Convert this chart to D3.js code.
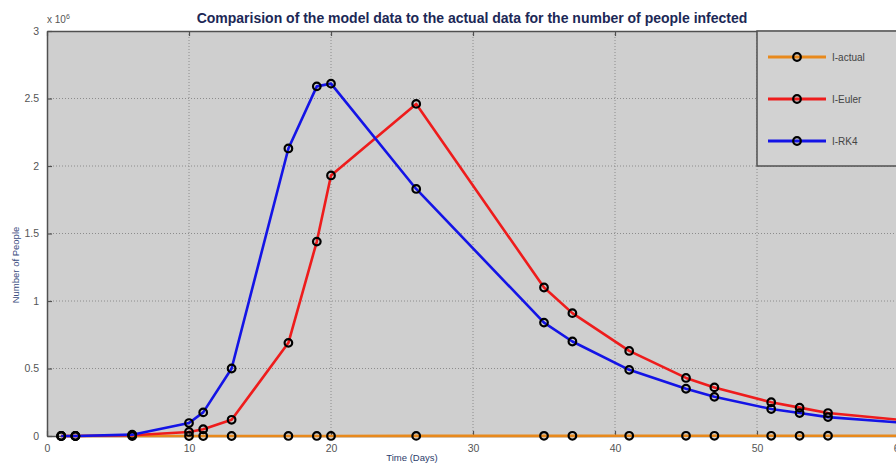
<!DOCTYPE html>
<html>
<head>
<meta charset="utf-8">
<script src="https://cdn.jsdelivr.net/npm/d3@7"></script>
<style>
  html, body { margin: 0; padding: 0; background: #ffffff; }
  svg { display: block; font-family: "Liberation Sans", Arial, sans-serif; }
</style>
</head>
<body>
<svg id="chart" width="896" height="465"></svg>
<script>
// Sample days and infected counts for each series
const days = [1, 2, 6, 10, 11, 13, 17, 19, 20, 26, 35, 37, 41, 45, 47, 51, 53, 55, 61];
const actualInfected = [1, 2, 5, 30, 60, 120, 250, 400, 500, 900, 1200, 1300, 1400, 1500, 1550, 1600, 1650, 1700, 1750];
const eulerInfected = [0, 0, 5000, 30000, 50000, 120000, 690000, 1440000, 1930000, 2460000,
  1100000, 910000, 630000, 430000, 360000, 250000, 210000, 170000, 110000];
const rk4Infected = [0, 0, 10000, 96000, 175000, 500000, 2130000, 2590000, 2610000, 1830000,
  840000, 700000, 490000, 350000, 290000, 200000, 170000, 140000, 92000];

const xTicks = [0, 10, 20, 30, 40, 50, 60];
const yTicks = [0, 0.5e6, 1e6, 1.5e6, 2e6, 2.5e6, 3e6];
const yTickLabels = ["0", "0.5", "1", "1.5", "2", "2.5", "3"];

const seriesNames = ["I-actual", "I-Euler", "I-RK4"];
const seriesColors = ["#e8891c", "#ee1c1c", "#1414e6"];
const seriesValues = [actualInfected, eulerInfected, rk4Infected];

const svg = d3.select("#chart");
const plotLeft = 47, plotRight = 899, plotTop = 31, plotBottom = 436;

const x = d3.scaleLinear().domain([0, 60]).range([plotLeft, plotRight]);
const y = d3.scaleLinear().domain([0, 3e6]).range([plotBottom, plotTop]);

// Title
svg.append("text")
  .attr("x", 472).attr("y", 23)
  .attr("text-anchor", "middle")
  .attr("font-size", 14).attr("font-weight", "bold")
  .attr("fill", "#1c2856")
  .text("Comparision of the model data to the actual data for the number of people infected");

// Plot background
svg.append("rect")
  .attr("x", plotLeft).attr("y", plotTop)
  .attr("width", plotRight - plotLeft).attr("height", plotBottom - plotTop)
  .attr("fill", "#cfcfcf");

svg.append("clipPath").attr("id", "plotclip")
  .append("rect")
  .attr("x", plotLeft).attr("y", plotTop - 6)
  .attr("width", plotRight - plotLeft).attr("height", plotBottom - plotTop + 12);

// Dotted grid
const grid = svg.append("g").attr("stroke", "#8c8c8c").attr("stroke-width", 1)
  .attr("stroke-dasharray", "1,2");
grid.selectAll(".vg").data(xTicks.filter(d => d > 0 && d < 60)).enter()
  .append("line")
  .attr("x1", d => x(d)).attr("x2", d => x(d))
  .attr("y1", plotTop).attr("y2", plotBottom);
grid.selectAll(".hg").data(yTicks.filter(d => d > 0 && d < 3e6)).enter()
  .append("line")
  .attr("x1", plotLeft).attr("x2", plotRight)
  .attr("y1", d => y(d)).attr("y2", d => y(d));

// Axes with inward ticks
const xAxisBottom = d3.axisBottom(x).tickValues(xTicks).tickSizeInner(-5).tickSizeOuter(0).tickPadding(9);
const xAxisTop = d3.axisTop(x).tickValues(xTicks).tickSizeInner(-5).tickSizeOuter(0).tickFormat("");
const yAxisLeft = d3.axisLeft(y).tickValues(yTicks).tickSizeInner(-5).tickSizeOuter(0).tickPadding(8)
  .tickFormat((d, i) => yTickLabels[i]);

function styleAxis(g) {
  g.select(".domain").attr("stroke", "#505050").attr("stroke-width", 1.5);
  g.selectAll(".tick line").attr("stroke", "#505050").attr("stroke-width", 1.2);
  g.selectAll(".tick text").attr("fill", "#555555").attr("font-size", 10.5)
    .attr("font-family", "\"Liberation Sans\", Arial, sans-serif");
}
svg.append("g").attr("transform", `translate(0,${plotBottom})`).call(xAxisBottom).call(styleAxis);
svg.append("g").attr("transform", `translate(0,${plotTop})`).call(xAxisTop).call(styleAxis);
svg.append("g").attr("transform", `translate(${plotLeft},0)`).call(yAxisLeft).call(styleAxis);

// Scale exponent
const expo = svg.append("text").attr("x", 47).attr("y", 23)
  .attr("font-size", 10).attr("fill", "#555555");
expo.append("tspan").text("x 10");
expo.append("tspan").attr("font-size", 7).attr("dy", -4).text("6");

// Axis titles
svg.append("text")
  .attr("x", 412).attr("y", 461)
  .attr("text-anchor", "middle")
  .attr("font-size", 9.5).attr("fill", "#2c3c6c")
  .text("Time (Days)");
svg.append("text")
  .attr("transform", "translate(19,265) rotate(-90)")
  .attr("text-anchor", "middle")
  .attr("font-size", 9.5).attr("fill", "#3a4c7e")
  .text("Number of People");

// Series lines and ring markers
const line = d3.line().x((d, i) => x(days[i])).y(d => y(d));
const plot = svg.append("g").attr("clip-path", "url(#plotclip)");
seriesValues.forEach((vals, s) => {
  plot.append("path")
    .datum(vals)
    .attr("d", line)
    .attr("fill", "none")
    .attr("stroke", seriesColors[s])
    .attr("stroke-width", 2.6)
    .attr("stroke-linejoin", "round");
});
seriesValues.forEach((vals, s) => {
  plot.selectAll(".m" + s).data(vals).enter()
    .append("circle")
    .attr("cx", (d, i) => x(days[i]))
    .attr("cy", d => y(d))
    .attr("r", 3.8)
    .attr("fill", "none")
    .attr("stroke", "#000000")
    .attr("stroke-width", 2.2);
});

// Legend
const lg = svg.append("g");
lg.append("rect")
  .attr("x", 757).attr("y", plotTop)
  .attr("width", 160).attr("height", 135)
  .attr("fill", "#d2d2d2")
  .attr("stroke", "#505050").attr("stroke-width", 1.5);
seriesNames.forEach((name, i) => {
  const ly = 57 + i * 42;
  lg.append("line")
    .attr("x1", 768).attr("x2", 826)
    .attr("y1", ly).attr("y2", ly)
    .attr("stroke", seriesColors[i]).attr("stroke-width", 3);
  lg.append("circle")
    .attr("cx", 797).attr("cy", ly).attr("r", 3.8)
    .attr("fill", "none")
    .attr("stroke", "#000000").attr("stroke-width", 2.2);
  lg.append("text")
    .attr("x", 832).attr("y", ly + 3.5)
    .attr("font-size", 10).attr("fill", "#444444")
    .text(name);
});
</script>
</body>
</html>
